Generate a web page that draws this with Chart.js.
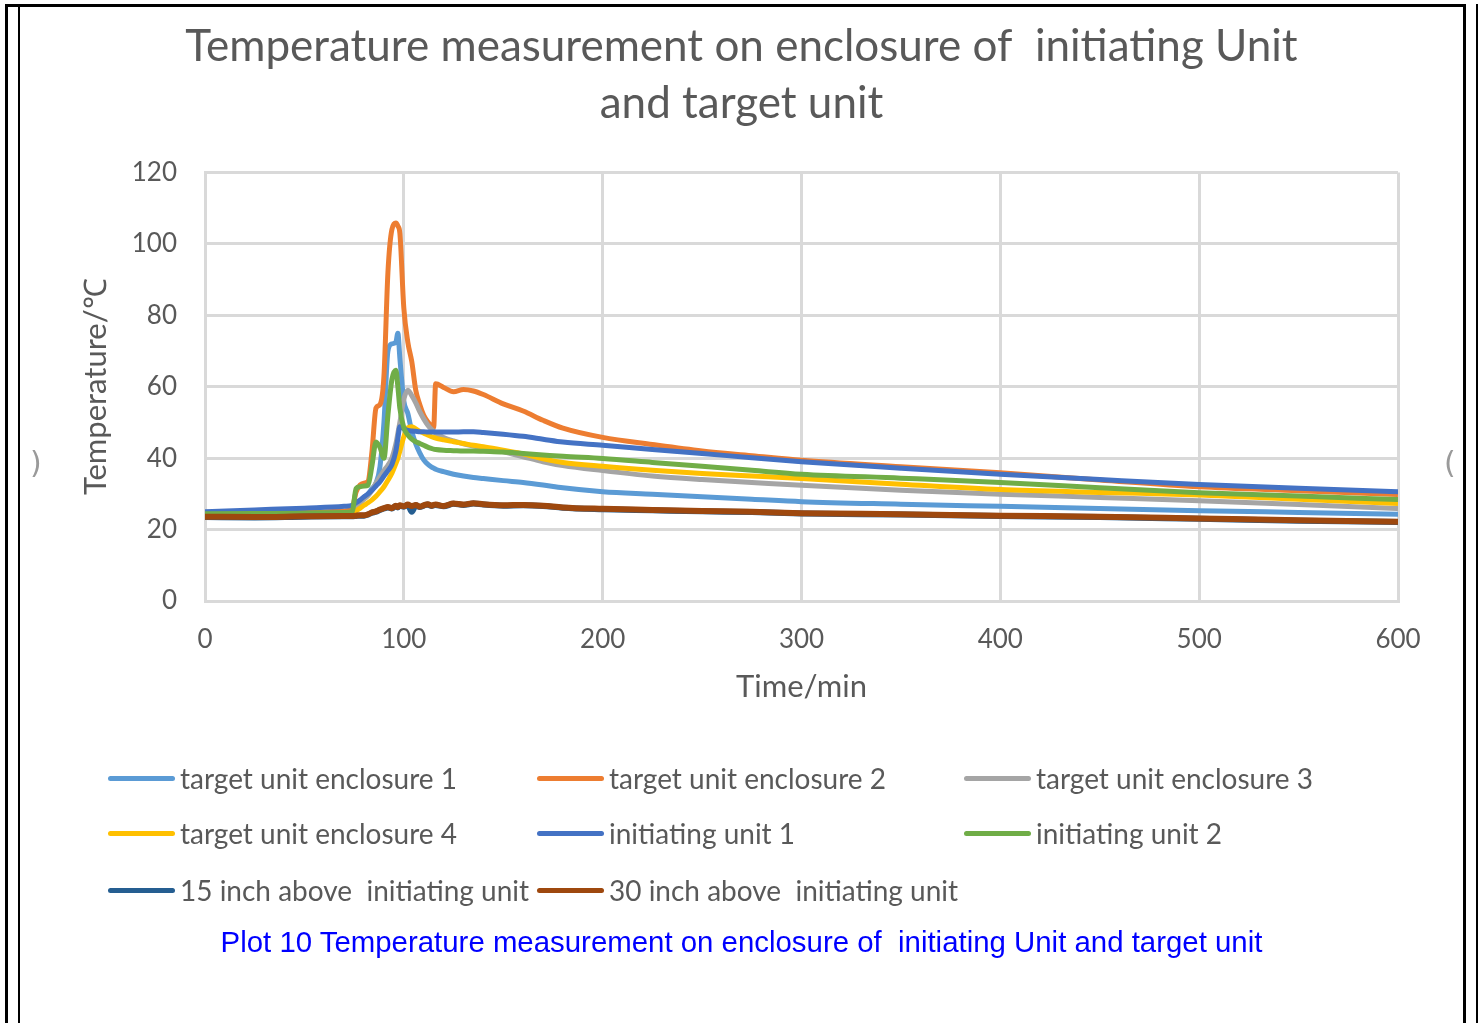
<!DOCTYPE html>
<html>
<head>
<meta charset="utf-8">
<script src="https://cdn.jsdelivr.net/npm/chart.js@4.4.1/dist/chart.umd.min.js"></script>
<style>
  html, body { margin: 0; padding: 0; background: #fff; }
  body { width: 1483px; height: 1023px; position: relative; overflow: hidden; }
  #chart { position: absolute; left: 0; top: 0; }
  .rule { position: absolute; background: #000; }
  .nick { position: absolute; color: #9a9a9a; font: 30px "DejaVu Sans", sans-serif; line-height: 1; }
  #legend { position: absolute; left: 0; top: 0; width: 1483px; height: 920px; pointer-events: none; }
  .item { position: absolute; height: 40px; display: flex; align-items: center; font: 28px Lato, sans-serif; color: #595959; white-space: pre; }
  .item span.swatch { display: inline-block; width: 67px; height: 5px; border-radius: 3px; margin-right: 5px; }
  #caption { position: absolute; left: 0; width: 1483px; top: 925px; text-align: center; font: 29.4px "Liberation Sans", Arial, sans-serif; color: #0000ff; white-space: pre; }
</style>
</head>
<body>
<canvas id="chart" width="1483" height="720"></canvas>
<div id="legend"></div>
<div id="caption">Plot 10 Temperature measurement on enclosure of  initiating Unit and target unit</div>

<!-- page frame -->
<div class="rule" style="left:5px;top:4px;width:1461px;height:3px"></div>
<div class="rule" style="left:5px;top:4px;width:2.5px;height:1019px"></div>
<div class="rule" style="left:17.5px;top:4px;width:2.5px;height:1019px"></div>
<div class="rule" style="left:1463px;top:4px;width:2.5px;height:1019px"></div>
<div class="rule" style="left:1475.5px;top:4px;width:2.5px;height:1019px"></div>
<div class="nick" style="left:30px;top:448px">)</div>
<div class="nick" style="left:1444px;top:448px">(</div>

<script>
// sample times in minutes
const times = [0, 25, 50, 70, 74, 76, 78, 80, 82, 84, 86, 88, 90, 92, 94, 96, 97, 98, 100, 102,
  104, 106, 108, 110, 112, 114, 115, 116, 120, 125, 130, 135, 140, 150, 160, 170, 180, 200, 225, 250,
  275, 300, 350, 400, 450, 500, 550, 600];

const seriesNames = ['target unit enclosure 1', 'target unit enclosure 2', 'target unit enclosure 3',
  'target unit enclosure 4', 'initiating unit 1', 'initiating unit 2',
  '15 inch above  initiating unit', '30 inch above  initiating unit'];

const targetEnclosure1 = [24.3, 24.4, 24.6, 24.8, 25.0, 27.0, 28.0, 29.0, 30.0, 31.5, 33.0, 37.6, 50.0, 70.0,
  72.0, 72.5, 75.0, 68.0, 56.0, 52.5, 47.5, 44.0, 41.5, 39.5, 38.3, 37.5, 37.2, 36.9, 36.2, 35.5,
  35.0, 34.6, 34.3, 33.7, 33.2, 32.5, 31.7, 30.6, 29.9, 29.2, 28.5, 27.8, 27.1, 26.5, 25.9, 25.3, 24.8, 24.3];

const targetEnclosure2 = [24.5, 24.6, 24.8, 25.2, 26.0, 30.5, 32.5, 33.0, 33.5, 42.0, 54.0, 55.0, 63.0, 92.0,
  104.0, 105.8, 105.0, 103.0, 82.0, 72.5, 67.0, 59.0, 55.0, 52.0, 50.2, 49.0, 48.6, 60.8, 59.8, 58.6,
  59.2, 58.8, 57.8, 55.2, 53.2, 50.6, 48.4, 45.8, 43.8, 42.0, 40.7, 39.4, 37.6, 35.9, 33.9, 32.0, 30.9, 29.8];

const targetEnclosure3 = [24.0, 24.1, 24.3, 24.6, 25.0, 26.5, 27.5, 28.5, 29.5, 31.0, 33.0, 34.8, 36.5, 38.0,
  40.0, 44.0, 47.0, 50.0, 56.5, 59.0, 57.5, 55.5, 53.0, 51.0, 49.3, 48.0, 47.5, 47.0, 45.8, 44.8,
  44.0, 43.4, 42.9, 41.8, 40.4, 39.0, 37.9, 36.5, 35.0, 34.0, 33.2, 32.4, 31.0, 29.9, 29.0, 28.1, 27.0, 25.9];

const targetEnclosure4 = [23.8, 23.9, 24.0, 24.3, 24.6, 25.2, 26.0, 26.8, 27.5, 28.3, 29.3, 30.6, 32.0, 33.8,
  35.8, 38.5, 40.0, 42.0, 46.0, 48.5, 48.8, 48.2, 47.5, 47.0, 46.5, 46.0, 45.8, 45.6, 45.1, 44.6,
  44.1, 43.6, 43.2, 42.2, 41.2, 39.8, 38.8, 37.7, 36.6, 35.7, 35.0, 34.3, 32.7, 31.2, 30.4, 29.7, 28.5, 27.3];

const initiatingUnit1 = [25.0, 25.5, 26.0, 26.5, 26.8, 27.5, 28.3, 29.2, 30.0, 31.0, 32.2, 33.4, 35.0, 36.5,
  38.2, 42.0, 45.5, 48.8, 48.3, 47.8, 47.6, 47.5, 47.4, 47.4, 47.3, 47.3, 47.3, 47.3, 47.3, 47.3,
  47.4, 47.4, 47.2, 46.7, 46.1, 45.3, 44.5, 43.6, 42.4, 41.3, 40.1, 39.0, 37.2, 35.5, 34.0, 32.6, 31.6, 30.6];

const initiatingUnit2 = [24.4, 24.5, 24.6, 24.8, 25.0, 31.5, 32.0, 32.2, 32.4, 38.0, 44.5, 43.0, 40.0, 52.0,
  62.0, 64.6, 60.0, 54.0, 48.5, 46.5, 45.3, 44.6, 44.1, 43.6, 43.1, 42.7, 42.5, 42.4, 42.2, 42.1,
  42.0, 42.0, 41.9, 41.7, 41.3, 40.9, 40.5, 39.9, 38.8, 37.7, 36.6, 35.5, 34.4, 33.2, 31.7, 30.3, 29.4, 28.4];

const above15in = [23.5, 23.4, 23.6, 23.7, 23.7, 23.8, 23.9, 23.9, 24.2, 24.7, 25.0, 25.5, 25.9, 26.2,
  25.9, 26.6, 26.2, 26.7, 26.4, 26.9, 25.0, 26.8, 26.3, 26.7, 27.0, 26.6, 26.8, 26.9, 26.5, 27.2,
  26.9, 27.3, 27.0, 26.7, 26.8, 26.6, 26.1, 25.7, 25.4, 25.1, 24.9, 24.5, 24.2, 23.8, 23.5, 23.0, 22.5, 22.1];

const above30in = [23.6, 23.5, 23.7, 23.8, 23.8, 23.9, 24.0, 24.0, 24.3, 24.8, 25.1, 25.6, 26.0, 26.3,
  26.0, 26.7, 26.3, 26.8, 26.5, 27.0, 26.6, 26.9, 26.4, 26.8, 27.1, 26.7, 26.9, 27.0, 26.6, 27.3,
  27.0, 27.4, 27.1, 26.8, 26.9, 26.7, 26.2, 25.8, 25.5, 25.2, 25.0, 24.6, 24.3, 23.9, 23.6, 23.1, 22.6, 22.2];

const seriesValues = [targetEnclosure1, targetEnclosure2, targetEnclosure3, targetEnclosure4,
  initiatingUnit1, initiatingUnit2, above15in, above30in];
const seriesColors = ['#5B9BD5', '#ED7D31', '#A5A5A5', '#FFC000', '#4472C4', '#70AD47', '#255E91', '#9E480E'];

const xTicks = [0, 100, 200, 300, 400, 500, 600];
const yTicks = [0, 20, 40, 60, 80, 100, 120];

const grey = '#595959';
const gridColor = '#D9D9D9';

const datasets = seriesNames.map((name, i) => ({
  label: name,
  data: times.map((t, k) => ({ x: t, y: seriesValues[i][k] })),
  borderColor: seriesColors[i],
  backgroundColor: seriesColors[i],
  borderWidth: i >= 6 ? 6 : 5,
  pointRadius: 0,
  cubicInterpolationMode: 'monotone',
  order: seriesNames.length - i   // later series sit on top
}));

const chart = new Chart(document.getElementById('chart'), {
  type: 'line',
  data: { datasets },
  options: {
    responsive: false,
    animation: false,
    devicePixelRatio: 1,
    // equal side padding keeps the title centred on the page
    layout: { padding: { left: 85, right: 85, top: 0, bottom: 0 } },
    plugins: {
      legend: { display: false },
      tooltip: { enabled: false },
      title: {
        display: true,
        text: ['Temperature measurement on enclosure of  initiating Unit', 'and target unit'],
        color: grey,
        font: { family: 'Lato', size: 44, weight: 'normal', lineHeight: 1.3 },
        padding: { top: 18.5, bottom: 39.5 }
      }
    },
    scales: {
      x: {
        type: 'linear',
        min: 0, max: 600,
        afterBuildTicks: (s) => { s.ticks = xTicks.map(v => ({ value: v })); },
        afterFit: (s) => { s.height = 119; },
        ticks: { color: grey, font: { family: 'Lato', size: 26 }, padding: 23 },
        grid: { color: gridColor, lineWidth: 3, drawTicks: false },
        border: { color: gridColor, width: 3 },
        title: { display: true, text: 'Time/min', color: grey, font: { family: 'Lato', size: 31 }, padding: { top: 0, bottom: 14 } }
      },
      y: {
        min: 0, max: 120,
        afterBuildTicks: (s) => { s.ticks = yTicks.map(v => ({ value: v })); },
        afterFit: (s) => { s.width = 120; },
        ticks: { color: grey, font: { family: 'Lato', size: 26 }, padding: 28 },
        grid: { color: gridColor, lineWidth: 3, drawTicks: false },
        border: { color: gridColor, width: 3 },
        title: { display: true, text: 'Temperature/℃', color: grey, font: { family: 'Lato', size: 31 }, padding: { top: -7.6, bottom: 0 } }
      }
    }
  }
});

// three-column legend under the plot
const legendBox = document.getElementById('legend');
const colX = [108, 537, 964];
const rowY = [778, 833, 890];
chart.data.datasets.forEach((ds, i) => {
  const item = document.createElement('div');
  item.className = 'item';
  item.style.left = colX[i % 3] + 'px';
  item.style.top = (rowY[Math.floor(i / 3)] - 20) + 'px';
  const sw = document.createElement('span');
  sw.className = 'swatch';
  sw.style.background = ds.borderColor;
  item.appendChild(sw);
  item.appendChild(document.createTextNode(ds.label));
  legendBox.appendChild(item);
});
</script>
</body>
</html>
